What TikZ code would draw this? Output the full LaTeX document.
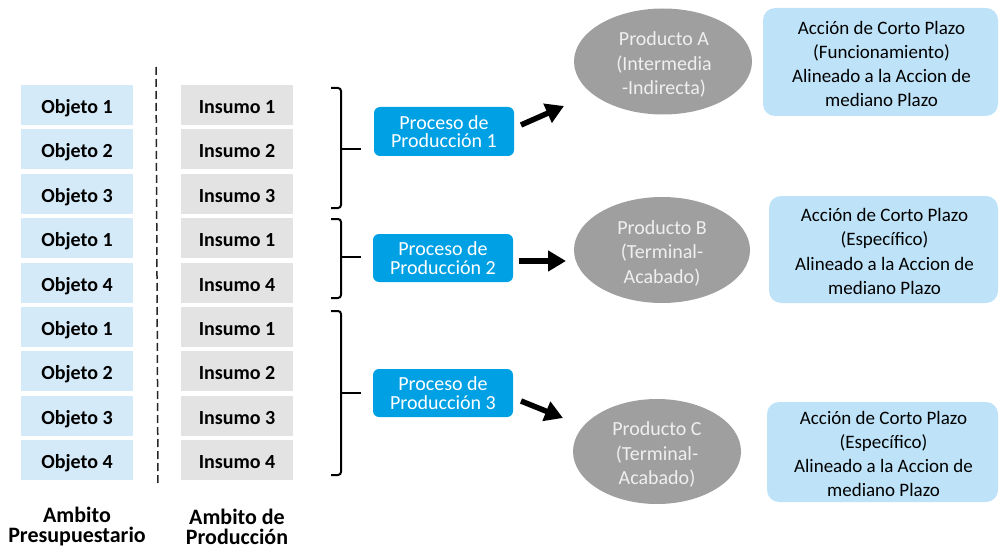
\documentclass[tikz,border=0pt]{standalone}
\usepackage{fontspec}
\setmainfont{Carlito}
\usetikzlibrary{arrows.meta,shapes.geometric}
\definecolor{objfill}{HTML}{D5EAF8}
\definecolor{insfill}{HTML}{E3E3E3}
\definecolor{procfill}{HTML}{00A1E4}
\definecolor{prodfill}{HTML}{9F9F9F}
\definecolor{prodtext}{HTML}{EFEFEF}
\definecolor{accfill}{HTML}{BEE3F8}
\tikzset{
  objbox/.style={fill=objfill, minimum width=112pt, minimum height=40pt, inner sep=0pt,
    text height=17pt, text depth=0pt, font=\fontsize{20}{22}\selectfont\bfseries},
  insbox/.style={fill=insfill, minimum width=112pt, minimum height=40pt, inner sep=0pt,
    text height=17pt, text depth=0pt, font=\fontsize{20}{22}\selectfont\bfseries},
  procbox/.style={fill=procfill, rounded corners=6pt, minimum width=140pt, minimum height=48pt,
    inner sep=0pt, text=white, align=center, font=\fontsize{20}{18.5}\selectfont},
  prodell/.style={ellipse, fill=prodfill, inner sep=0pt},
  prodtxt/.style={inner sep=0pt, text=prodtext, align=center,
    font=\fontsize{20}{24.5}\selectfont},
  accbox/.style={fill=accfill, rounded corners=12pt, inner sep=0pt},
  acctxt/.style={inner sep=0pt, align=center, font=\fontsize{19}{24.2}\selectfont},
  bracket/.style={draw=black, line width=2pt, rounded corners=3pt},
  tick/.style={draw=black, line width=2pt},
  bigarrow/.style={draw=black, line width=5.5pt, -{Triangle[length=18pt,width=20pt]}},
  sepline/.style={draw=black!85, line width=1.5pt, dash pattern=on 8pt off 4pt},
  footlabel/.style={align=center, font=\fontsize{22}{20}\selectfont\bfseries}
}
\begin{document}
\begin{tikzpicture}[x=1pt,y=-1pt]
\useasboundingbox (0,0) rectangle (1000,548);
% separator
\coordinate (s1) at (156,67);
\coordinate (s2) at (158,486);
\draw[sepline] (s1) -- (s2);
% left column
\node[objbox] (o1) at (77,105) {Objeto 1};
\node[objbox] (o2) at (77,149.4) {Objeto 2};
\node[objbox] (o3) at (77,193.8) {Objeto 3};
\node[objbox] (o4) at (77,238.2) {Objeto 1};
\node[objbox] (o5) at (77,282.6) {Objeto 4};
\node[objbox] (o6) at (77,327) {Objeto 1};
\node[objbox] (o7) at (77,371.4) {Objeto 2};
\node[objbox] (o8) at (77,415.8) {Objeto 3};
\node[objbox] (o9) at (77,460.2) {Objeto 4};
% middle column
\node[insbox] (i1) at (237,105) {Insumo 1};
\node[insbox] (i2) at (237,149.4) {Insumo 2};
\node[insbox] (i3) at (237,193.8) {Insumo 3};
\node[insbox] (i4) at (237,238.2) {Insumo 1};
\node[insbox] (i5) at (237,282.6) {Insumo 4};
\node[insbox] (i6) at (237,327) {Insumo 1};
\node[insbox] (i7) at (237,371.4) {Insumo 2};
\node[insbox] (i8) at (237,415.8) {Insumo 3};
\node[insbox] (i9) at (237,460.2) {Insumo 4};
% brackets
\draw[bracket] (331,88) -- (341,88) -- (341,208) -- (331,208);
\draw[tick] (341,149) -- (361,149);
\draw[bracket] (331,219) -- (341,219) -- (341,298) -- (331,298);
\draw[tick] (341,257) -- (361,257);
\draw[bracket] (331,311) -- (341,311) -- (341,475) -- (331,475);
\draw[tick] (341,393) -- (361,393);
% processes
\node[procbox, minimum height=49pt] (p1) at (444,131.5) {Proceso de\\Producción 1};
\node[procbox] (p2) at (443,258) {Proceso de\\Producción 2};
\node[procbox] (p3) at (443,393) {Proceso de\\Producción 3};
% products
\node[prodell, minimum width=178pt, minimum height=106pt] (pa) at (663,61.5) {};
\node[prodtxt] (pat) at (664,64.5) {Producto A\\(Intermedia\\-Indirecta)};
\node[prodell, minimum width=176pt, minimum height=106pt] (pb) at (662,250) {};
\node[prodtxt] (pbt) at (662,253) {Producto B\\(Terminal-\\Acabado)};
\node[prodell, minimum width=168pt, minimum height=105pt] (pc) at (657,451.5) {};
\node[prodtxt] (pct) at (657,454.5) {Producto C\\(Terminal-\\Acabado)};
% arrows
\coordinate (a1s) at (521,125);
\coordinate (a1e) at (564,106);
\coordinate (a2s) at (519,261);
\coordinate (a2e) at (566,261);
\coordinate (a3s) at (521,401);
\coordinate (a3e) at (563,418);
\draw[bigarrow] (a1s) -- (a1e);
\draw[bigarrow] (a2s) -- (a2e);
\draw[bigarrow] (a3s) -- (a3e);
% actions
\node[accbox, minimum width=235pt, minimum height=108pt] (c1) at (880.5,62) {};
\node[acctxt] (c1t) at (881.5,64) {Acción de Corto Plazo\\(Funcionamiento)\\Alineado a la Accion de\\mediano Plazo};
\node[accbox, minimum width=229pt, minimum height=107pt] (c2) at (883.5,249.5) {};
\node[acctxt] (c2t) at (884.5,251.5) {Acción de Corto Plazo\\(Específico)\\Alineado a la Accion de\\mediano Plazo};
\node[accbox, minimum width=231pt, minimum height=100pt] (c3) at (882.5,452) {};
\node[acctxt] (c3t) at (883.5,454) {Acción de Corto Plazo\\(Específico)\\Alineado a la Accion de\\mediano Plazo};
% footer labels
\node[footlabel] (f1) at (77,527) {Ambito\\Presupuestario};
\node[footlabel] (f2) at (237,526.5) {Ambito de\\Producción};
\end{tikzpicture}
\end{document}
